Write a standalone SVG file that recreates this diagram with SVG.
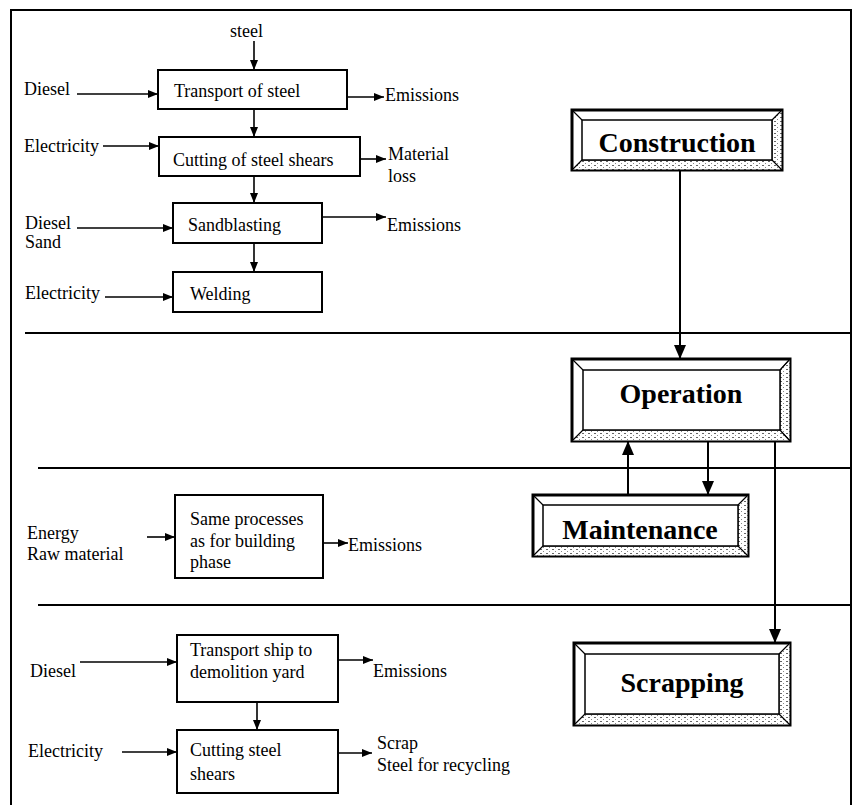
<svg xmlns="http://www.w3.org/2000/svg" width="855" height="805" viewBox="0 0 855 805">
<defs>
<style>
.t{font-family:"Liberation Serif","Times New Roman",serif;font-size:18px;fill:#000}
.b{font-family:"Liberation Serif","Times New Roman",serif;font-size:28px;font-weight:bold;fill:#000;text-anchor:middle}
.box{fill:#fff;stroke:#000;stroke-width:2}
.ln{stroke:#000;stroke-width:1.6;fill:none}
.big{stroke:#000;stroke-width:2;fill:none}
.div{stroke:#000;stroke-width:1.8}
.outer{fill:#fff;stroke:#000;stroke-width:3}
.inner{fill:#fff;stroke:#000;stroke-width:1.5}
.bev{stroke:#000;stroke-width:1.2;fill:none}
.shade{fill:url(#stip);stroke:#000;stroke-width:1}
</style>
<pattern id="stip" width="6" height="4" patternUnits="userSpaceOnUse">
<rect width="6" height="4" fill="#fff"/>
<rect x="0" y="1" width="2" height="1" fill="#666"/>
<rect x="3" y="3" width="1" height="1" fill="#888"/>
</pattern>
<marker id="a" markerUnits="userSpaceOnUse" markerWidth="10" markerHeight="8" refX="10" refY="4" orient="auto"><path d="M0,0 L10,4 L0,8 z" fill="#000"/></marker>
<marker id="A" markerUnits="userSpaceOnUse" markerWidth="14" markerHeight="12" refX="14" refY="6" orient="auto"><path d="M0,0 L14,6 L0,12 z" fill="#000"/></marker>
</defs>
<rect width="855" height="805" fill="#fff"/>

<g id="frame">
<path d="M11,805 L11,10 L851,10 L851,805" class="big"/>
<line x1="25" y1="333" x2="851" y2="333" class="div"/>
<line x1="38" y1="468" x2="851" y2="468" class="div"/>
<line x1="38" y1="605" x2="851" y2="605" class="div"/>
</g>

<g id="labels">
<text class="t" x="230" y="37">steel</text>
<text class="t" x="24" y="95">Diesel</text>
<text class="t" x="385" y="101">Emissions</text>
<text class="t" x="24" y="152">Electricity</text>
<text class="t" x="388" y="160">Material</text>
<text class="t" x="388" y="182">loss</text>
<text class="t" x="25" y="229">Diesel</text>
<text class="t" x="25" y="248">Sand</text>
<text class="t" x="387" y="231">Emissions</text>
<text class="t" x="25" y="299">Electricity</text>
<text class="t" x="27" y="539">Energy</text>
<text class="t" x="27" y="560">Raw material</text>
<text class="t" x="348" y="551">Emissions</text>
<text class="t" x="30" y="677">Diesel</text>
<text class="t" x="373" y="677">Emissions</text>
<text class="t" x="28" y="757">Electricity</text>
<text class="t" x="377" y="749">Scrap</text>
<text class="t" x="377" y="771">Steel for recycling</text>
</g>

<g id="transport-of-steel"><rect class="box" x="158" y="70" width="189" height="39"/><text class="t" x="174" y="97">Transport of steel</text></g>
<g id="cutting-of-steel-shears"><rect class="box" x="159" y="137" width="201" height="39"/><text class="t" x="173" y="166">Cutting of steel shears</text></g>
<g id="sandblasting"><rect class="box" x="173" y="203" width="149" height="40"/><text class="t" x="188" y="231">Sandblasting</text></g>
<g id="welding"><rect class="box" x="173" y="272" width="149" height="40"/><text class="t" x="190" y="300">Welding</text></g>
<g id="same-processes"><rect class="box" x="175" y="495" width="148" height="83"/><text class="t" x="190" y="525">Same processes</text><text class="t" x="190" y="547">as for building</text><text class="t" x="190" y="568">phase</text></g>
<g id="transport-ship"><rect class="box" x="177" y="635" width="161" height="67"/><text class="t" x="190" y="656">Transport ship to</text><text class="t" x="190" y="678">demolition yard</text></g>
<g id="cutting-steel-shears"><rect class="box" x="177" y="730" width="161" height="63"/><text class="t" x="190" y="756">Cutting steel</text><text class="t" x="190" y="780">shears</text></g>

<g id="construction">
<rect class="outer" x="572" y="110" width="210" height="60"/>
<polygon class="shade" points="772,120 782,110 782,170 772,160"/>
<polygon class="shade" points="582,160 772,160 782,170 572,170"/>
<rect class="inner" x="582" y="120" width="190" height="40"/>
<path class="bev" d="M572,110 L582,120 M782,110 L772,120 M572,170 L582,160 M782,170 L772,160"/>
<text class="b" x="677" y="152">Construction</text>
</g>
<g id="operation">
<rect class="outer" x="572" y="359" width="218" height="82"/>
<polygon class="shade" points="780,370 790,359 790,441 780,430"/>
<polygon class="shade" points="583,430 780,430 790,441 572,441"/>
<rect class="inner" x="583" y="370" width="197" height="60"/>
<path class="bev" d="M572,359 L583,370 M790,359 L780,370 M572,441 L583,430 M790,441 L780,430"/>
<text class="b" x="681" y="403">Operation</text>
</g>
<g id="maintenance">
<rect class="outer" x="533" y="495" width="215" height="61"/>
<polygon class="shade" points="738,505 748,495 748,556 738,546"/>
<polygon class="shade" points="543,546 738,546 748,556 533,556"/>
<rect class="inner" x="543" y="505" width="195" height="41"/>
<path class="bev" d="M533,495 L543,505 M748,495 L738,505 M533,556 L543,546 M748,556 L738,546"/>
<text class="b" x="640" y="539">Maintenance</text>
</g>
<g id="scrapping">
<rect class="outer" x="574" y="643" width="216" height="82"/>
<polygon class="shade" points="779,654 790,643 790,725 779,714"/>
<polygon class="shade" points="585,714 779,714 790,725 574,725"/>
<rect class="inner" x="585" y="654" width="194" height="60"/>
<path class="bev" d="M574,643 L585,654 M790,643 L779,654 M574,725 L585,714 M790,725 L779,714"/>
<text class="b" x="682" y="692">Scrapping</text>
</g>

<g id="connectors">
<line class="ln" x1="254" y1="41" x2="254" y2="70" marker-end="url(#a)"/>
<line class="ln" x1="77" y1="94" x2="158" y2="94" marker-end="url(#a)"/>
<line class="ln" x1="347" y1="97" x2="384" y2="97" marker-end="url(#a)"/>
<line class="ln" x1="254" y1="109" x2="254" y2="137" marker-end="url(#a)"/>
<line class="ln" x1="103" y1="146" x2="159" y2="146" marker-end="url(#a)"/>
<line class="ln" x1="360" y1="159" x2="386" y2="159" marker-end="url(#a)"/>
<line class="ln" x1="254" y1="176" x2="254" y2="203" marker-end="url(#a)"/>
<line class="ln" x1="77" y1="228" x2="173" y2="228" marker-end="url(#a)"/>
<line class="ln" x1="322" y1="217" x2="386" y2="217" marker-end="url(#a)"/>
<line class="ln" x1="254" y1="243" x2="254" y2="272" marker-end="url(#a)"/>
<line class="ln" x1="105" y1="297" x2="173" y2="297" marker-end="url(#a)"/>
<line class="ln" x1="147" y1="537" x2="175" y2="537" marker-end="url(#a)"/>
<line class="ln" x1="323" y1="543" x2="348" y2="543" marker-end="url(#a)"/>
<line class="ln" x1="80" y1="662" x2="177" y2="662" marker-end="url(#a)"/>
<line class="ln" x1="338" y1="660" x2="373" y2="660" marker-end="url(#a)"/>
<line class="ln" x1="257" y1="702" x2="257" y2="730" marker-end="url(#a)"/>
<line class="ln" x1="122" y1="752" x2="177" y2="752" marker-end="url(#a)"/>
<line class="ln" x1="338" y1="753" x2="372" y2="753" marker-end="url(#a)"/>
<line class="big" x1="680" y1="170" x2="680" y2="359" marker-end="url(#A)"/>
<line class="big" x1="708" y1="441" x2="708" y2="495" marker-end="url(#A)"/>
<line class="big" x1="628" y1="495" x2="628" y2="441" marker-end="url(#A)"/>
<line class="big" x1="775" y1="441" x2="775" y2="643" marker-end="url(#A)"/>
</g>
</svg>
